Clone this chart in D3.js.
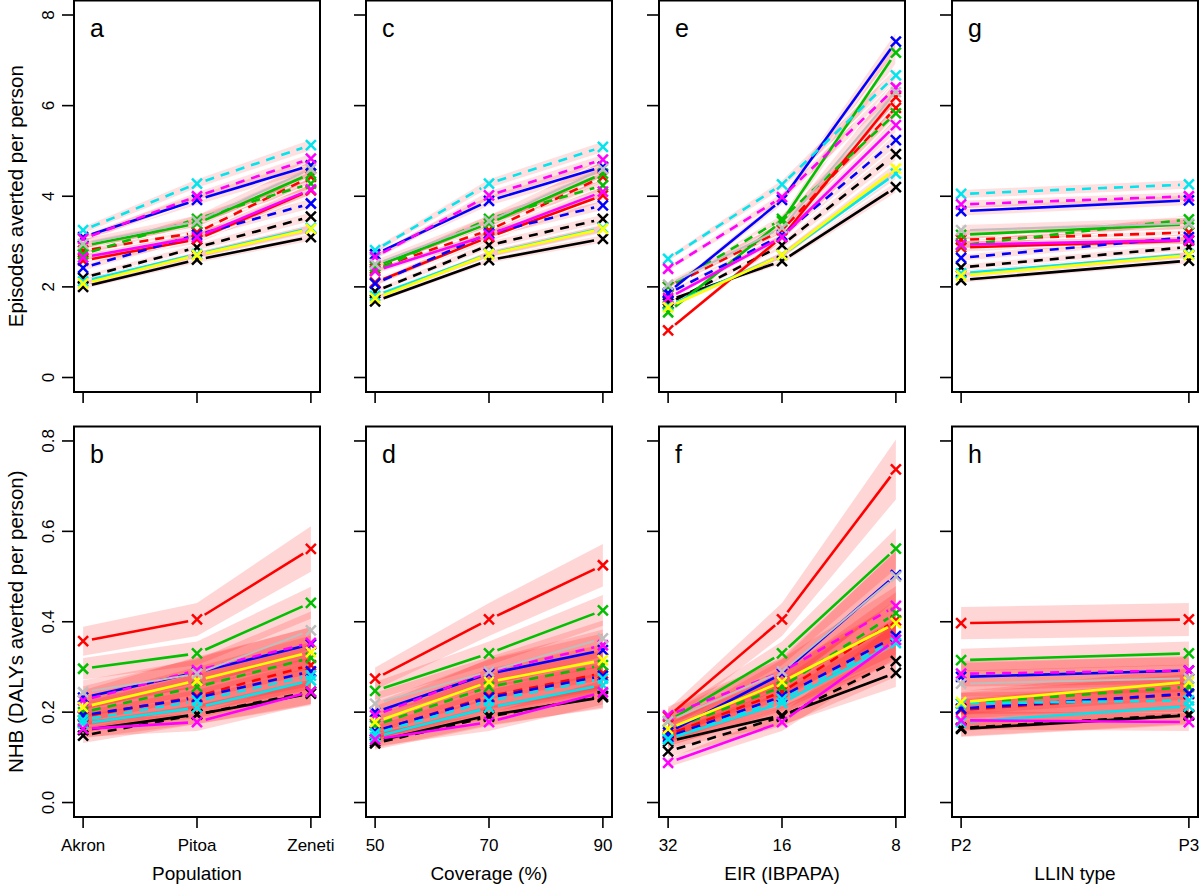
<!DOCTYPE html>
<html><head><meta charset="utf-8">
<script src="https://cdn.jsdelivr.net/npm/d3@7"></script>
<style>
html,body{margin:0;padding:0;background:#fff;}
text{font-family:"Liberation Sans",Arial,Helvetica,sans-serif;fill:#000;}
</style></head>
<body><svg id="chart" width="1200" height="885"></svg>
<script>
// ---------- data ----------
const seriesNames = ["blackS","blackD","redS","redD","greenS","greenD","blueS","blueD","cyanS","cyanD","magS","magD","yellowS","grayS"];
const seriesColors = ["#000000","#000000","#FF0000","#FF0000","#00C000","#00C000","#0000FF","#0000FF","#00E5EE","#00E5EE","#FF00FF","#FF00FF","#FFFF00","#BEBEBE"];
const seriesDashed = [false,true,false,true,false,true,false,true,false,true,false,true,false,false];

const popCats = ["Akron","Pitoa","Zeneti"];
const covCats = ["50","70","90"];
const eirCats = ["32","16","8"];
const llinCats = ["P2","P3"];

const xTitles = ["Population","Coverage (%)","EIR (IBPAPA)","LLIN type"];
const yTitles = ["Episodes averted per person","NHB (DALYs averted per person)"];
const topTicks = [0,2,4,6,8];
const topTickLabels = ["0","2","4","6","8"];
const botTicks = [0,0.2,0.4,0.6,0.8];
const botTickLabels = ["0.0","0.2","0.4","0.6","0.8"];
const panelLetters = [["a","c","e","g"],["b","d","f","h"]];

// Episodes averted (top row), one row per series in seriesNames order
const episodesPop = [
 [2.0,2.6,3.1],[2.2,2.87,3.55],[2.58,3.05,4.13],[2.8,3.2,4.43],[2.9,3.4,4.5],[2.72,3.5,4.28],
 [3.1,3.92,4.68],[2.42,3.15,3.84],[2.12,2.72,3.3],[3.25,4.28,5.13],[2.65,3.1,4.15],[3.06,4.0,4.83],
 [2.07,2.7,3.28],[2.95,3.45,4.6]];
const episodesCov = [
 [1.68,2.59,3.06],[1.9,2.92,3.5],[2.1,3.1,4.02],[2.4,3.25,4.43],[2.45,3.4,4.5],[2.36,3.5,4.24],
 [2.72,3.9,4.65],[2.07,3.18,3.8],[1.8,2.73,3.3],[2.81,4.28,5.09],[2.35,3.15,4.1],[2.66,4.02,4.81],
 [1.75,2.72,3.28],[2.5,3.45,4.6]];
const episodesEir = [
 [1.7,2.57,4.2],[1.63,2.92,4.93],[1.04,3.1,6.19],[2.0,3.25,5.95],[1.44,3.45,7.17],[2.0,3.5,5.83],
 [1.87,3.92,7.41],[1.85,3.14,5.24],[1.58,2.7,4.5],[2.62,4.26,6.67],[1.75,3.1,5.57],[2.4,3.98,6.4],
 [1.55,2.7,4.61],[2.05,3.3,6.3]];
const episodesLlin = [
 [2.15,2.58],[2.43,2.88],[2.87,3.02],[3.04,3.2],[3.15,3.38],[2.92,3.49],
 [3.67,3.91],[2.64,3.1],[2.3,2.72],[4.05,4.26],[2.93,3.03],[3.82,4.0],
 [2.25,2.7],[3.25,3.4]];

// NHB (bottom row)
const nhbPop = [
 [0.16,0.195,0.241],[0.148,0.195,0.245],[0.357,0.405,0.561],[0.19,0.235,0.304],[0.296,0.33,0.442],[0.2,0.256,0.32],
 [0.232,0.288,0.35],[0.193,0.232,0.29],[0.175,0.21,0.27],[0.183,0.225,0.281],[0.163,0.178,0.245],[0.226,0.293,0.353],
 [0.211,0.27,0.333],[0.244,0.285,0.381]];
const nhbCov = [
 [0.135,0.193,0.233],[0.131,0.19,0.236],[0.274,0.405,0.525],[0.157,0.235,0.286],[0.247,0.33,0.425],[0.171,0.256,0.304],
 [0.2,0.285,0.337],[0.158,0.232,0.28],[0.145,0.21,0.26],[0.153,0.225,0.274],[0.14,0.178,0.244],[0.193,0.289,0.348],
 [0.178,0.267,0.315],[0.219,0.29,0.363]];
const nhbEir = [
 [0.135,0.193,0.287],[0.113,0.19,0.313],[0.19,0.405,0.737],[0.15,0.245,0.403],[0.18,0.33,0.562],[0.16,0.256,0.419],
 [0.155,0.285,0.503],[0.145,0.235,0.368],[0.141,0.22,0.353],[0.14,0.228,0.36],[0.088,0.178,0.36],[0.193,0.289,0.435],
 [0.163,0.267,0.397],[0.18,0.29,0.5]];
const nhbLlin = [
 [0.163,0.193],[0.165,0.195],[0.397,0.405],[0.205,0.24],[0.315,0.33],[0.219,0.256],
 [0.278,0.292],[0.208,0.241],[0.178,0.213],[0.219,0.226],[0.182,0.178],[0.285,0.292],
 [0.222,0.267],[0.263,0.275]];

// relative half-width of the uncertainty ribbons, per series
const ribbonRelTop = [0.03,0.03,0.035,0.03,0.035,0.03,0.03,0.03,0.03,0.025,0.03,0.025,0.03,0.04];
const ribbonRelBottom = [0.11,0.11,0.09,0.11,0.08,0.11,0.11,0.11,0.11,0.11,0.11,0.1,0.11,0.11];

// ---------- layout ----------
const svg = d3.select("#chart");
const colLeft = [74,366,659,952];
const boxW = 246;
const rows = [{top:0.5,bottom:392},{top:426.5,bottom:817}];

const panels = [
 [{cats:popCats,vals:episodesPop},{cats:covCats,vals:episodesCov},{cats:eirCats,vals:episodesEir},{cats:llinCats,vals:episodesLlin}],
 [{cats:popCats,vals:nhbPop},{cats:covCats,vals:nhbCov},{cats:eirCats,vals:nhbEir},{cats:llinCats,vals:nhbLlin}]
];

function shorten(p0,p1,g){
  const dx=p1[0]-p0[0], dy=p1[1]-p0[1], L=Math.hypot(dx,dy);
  if(L<=2*g) return null;
  const ux=dx/L, uy=dy/L;
  return [[p0[0]+ux*g,p0[1]+uy*g],[p1[0]-ux*g,p1[1]-uy*g]];
}

panels.forEach((row,ri)=>{
  const R = rows[ri];
  const yDom = ri===0 ? [-0.32,8.32] : [-0.032,0.832];
  const y = d3.scaleLinear().domain(yDom).range([R.bottom,R.top]);
  const ticks = ri===0 ? topTicks : botTicks;
  const tickLabels = ri===0 ? topTickLabels : botTickLabels;
  const rel = ri===0 ? ribbonRelTop : ribbonRelBottom;

  row.forEach((pn,ci)=>{
    const n = pn.cats.length;
    const pad = 0.04*(n-1);
    const x = d3.scaleLinear().domain([1-pad,n+pad]).range([colLeft[ci],colLeft[ci]+boxW]);
    const g = svg.append("g");
    const clipId = "clip"+ri+ci;
    svg.append("clipPath").attr("id",clipId).append("rect")
      .attr("x",colLeft[ci]).attr("y",R.top).attr("width",boxW).attr("height",R.bottom-R.top);
    const inner = g.append("g").attr("clip-path","url(#"+clipId+")");

    // ribbons
    const area = d3.area().x((d,i)=>x(i+1)).y0(d=>y(d[0])).y1(d=>y(d[1]));
    pn.vals.forEach((v,si)=>{
      const band = v.map(val=>[val*(1-rel[si]), val*(1+rel[si])]);
      inner.append("path").attr("d",area(band))
        .attr("fill","#FF0000").attr("fill-opacity", ri===0 ? 0.12 : 0.16)
        .attr("stroke", ri===0 ? "#ffffff" : "none").attr("stroke-width",1.2).attr("stroke-opacity",0.9);
    });

    // lines with gaps around points
    const line = d3.line();
    pn.vals.forEach((v,si)=>{
      const pts = v.map((val,i)=>[x(i+1),y(val)]);
      for(let i=0;i<pts.length-1;i++){
        const s = shorten(pts[i],pts[i+1],9);
        if(!s) continue;
        inner.append("path").attr("d",line(s))
          .attr("fill","none").attr("stroke",seriesColors[si])
          .attr("stroke-width", seriesNames[si]==="grayS" ? 2 : 2.6)
          .attr("stroke-dasharray", seriesDashed[si] ? "9,7" : null);
      }
    });

    // x markers
    const h = 5;
    pn.vals.forEach((v,si)=>{
      v.forEach((val,i)=>{
        const cx=x(i+1), cy=y(val);
        g.append("path")
          .attr("d",`M${cx-h},${cy-h}L${cx+h},${cy+h}M${cx-h},${cy+h}L${cx+h},${cy-h}`)
          .attr("stroke",seriesColors[si]).attr("stroke-width",2.5).attr("fill","none");
      });
    });

    // box
    g.append("rect").attr("x",colLeft[ci]).attr("y",R.top).attr("width",boxW).attr("height",R.bottom-R.top)
      .attr("fill","none").attr("stroke","#000").attr("stroke-width",2);

    // y axis ticks
    ticks.forEach((t,k)=>{
      g.append("line").attr("x1",colLeft[ci]-12).attr("x2",colLeft[ci]).attr("y1",y(t)).attr("y2",y(t))
        .attr("stroke","#000").attr("stroke-width",1.6);
      if(ci===0){
        g.append("text").attr("transform",`translate(48,${y(t)}) rotate(-90)`)
          .attr("text-anchor","middle").attr("dominant-baseline","central")
          .attr("font-size",17).text(tickLabels[k]);
      }
    });
    // x axis ticks
    pn.cats.forEach((c,i)=>{
      g.append("line").attr("x1",x(i+1)).attr("x2",x(i+1)).attr("y1",R.bottom).attr("y2",R.bottom+11)
        .attr("stroke","#000").attr("stroke-width",1.6);
      if(ri===1){
        g.append("text").attr("x",x(i+1)).attr("y",845).attr("text-anchor","middle")
          .attr("dominant-baseline","central").attr("font-size",17).text(c);
      }
    });
    if(ri===1){
      g.append("text").attr("x",colLeft[ci]+boxW/2).attr("y",873).attr("text-anchor","middle")
        .attr("dominant-baseline","central").attr("font-size",19).text(xTitles[ci]);
    }
    // panel letter
    g.append("text").attr("x",colLeft[ci]+16).attr("y",R.top+36).attr("font-size",25).text(panelLetters[ri][ci]);
  });

  svg.append("text").attr("transform",`translate(15,${(R.top+R.bottom)/2}) rotate(-90)`)
    .attr("text-anchor","middle").attr("dominant-baseline","central").attr("font-size",20.5).text(yTitles[ri]);
});
</script></body></html>
